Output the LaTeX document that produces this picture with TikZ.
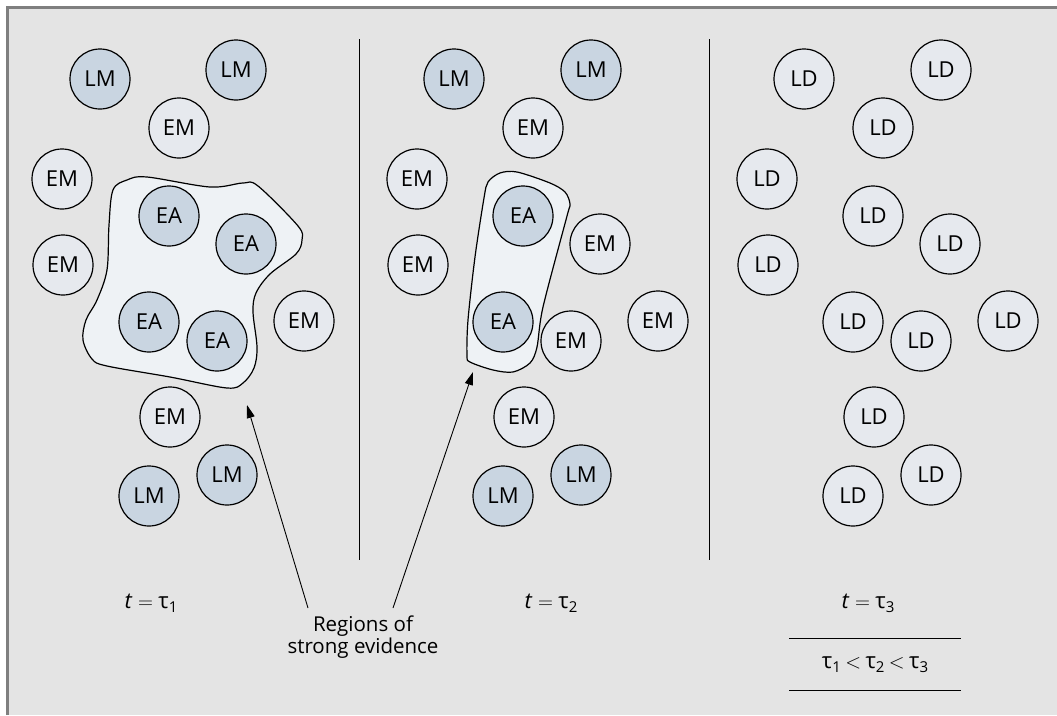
\documentclass[tikz,border=0pt]{standalone}
\usepackage{fontspec}
\setmainfont{Open Sans}
\usetikzlibrary{arrows.meta}
\definecolor{bg}{HTML}{E4E4E4}
\definecolor{lightc}{HTML}{E6E9EE}
\definecolor{darkc}{HTML}{C9D5E1}
\definecolor{blobc}{HTML}{EEF2F5}
\definecolor{framec}{HTML}{7F7F7F}
\tikzset{
  agent/.style={circle, draw=black, line width=1.2pt, minimum size=60pt, inner sep=0pt, font=\fontsize{22}{24}\selectfont},
  lightag/.style={agent, fill=lightc},
  darkag/.style={agent, fill=darkc},
  blob/.style={draw=black, line width=1.2pt, fill=blobc},
  divider/.style={draw=black, line width=1pt},
  pointer/.style={draw=black, line width=0.9pt, -{Triangle[length=13pt,width=8pt]}},
  lbl/.style={font=\fontsize{22}{24}\selectfont, align=center}
}
\newcommand{\tsub}[1]{\raisebox{-0.35ex}{\fontsize{15}{16}\selectfont #1}}
\newcommand{\releq}{\hspace{0.25em}$=$\hspace{0.25em}}
\newcommand{\rellt}{\hspace{0.2em}$<$\hspace{0.2em}}
\begin{document}
\begin{tikzpicture}[x=1pt,y=-1pt]
\useasboundingbox (0,0) rectangle (1057,715);
\fill[white] (0,0) rectangle (1057,715);
\fill[bg] (7.5,7.5) rectangle (1057,715);
\draw[framec, line width=2.5pt] (7.5,715) -- (7.5,7.5) -- (1057,7.5);

% regions of strong evidence
\draw[blob] plot[smooth cycle, tension=0.55] coordinates {
 (113,190) (127,180) (147,177) (210,187) (243,183) (258,186) (298,226) (302,240)
 (296,254) (270,274) (256,293) (253,312) (257,347) (254,368) (243,383) (227,388)
 (170,377) (107,366) (92,359) (83,340) (86,320) (97,300) (107,270) (109,225)};
\draw[blob] plot[smooth cycle, tension=0.5] coordinates {
 (488,182) (500,173) (517,172) (550,183) (565,192) (570,204) (567,216)
 (543,307) (537,347) (530,363) (513,372) (493,370) (470,362) (467,355)
 (468,320) (475,257) (484,198)};

% dividers
\draw[divider] (359.5,39) coordinate (d1t) -- (359.5,560) coordinate (d1b);
\draw[divider] (709,39) coordinate (d2t) -- (709,560) coordinate (d2b);

% panel 1
\node[darkag] (p1lm1) at (100,79) {LM};
\node[darkag] (p1lm2) at (236,70) {LM};
\node[lightag] (p1em1) at (179,128) {EM};
\node[lightag] (p1em2) at (62,179) {EM};
\node[lightag] (p1em3) at (63,265) {EM};
\node[darkag] (p1ea1) at (169,216) {EA};
\node[darkag] (p1ea2) at (246,244) {EA};
\node[darkag] (p1ea3) at (149,322) {EA};
\node[darkag] (p1ea4) at (217,341) {EA};
\node[lightag] (p1em4) at (304,321) {EM};
\node[lightag] (p1em5) at (170,417) {EM};
\node[darkag] (p1lm3) at (227,475) {LM};
\node[darkag] (p1lm4) at (149,496) {LM};

% panel 2
\node[darkag] (p2lm1) at (454,79) {LM};
\node[darkag] (p2lm2) at (591,70) {LM};
\node[lightag] (p2em1) at (533,128) {EM};
\node[lightag] (p2em2) at (417,179) {EM};
\node[lightag] (p2em3) at (418,265) {EM};
\node[darkag] (p2ea1) at (523,216) {EA};
\node[lightag] (p2em4) at (600,244) {EM};
\node[darkag] (p2ea2) at (503,322) {EA};
\node[lightag] (p2em5) at (571,341) {EM};
\node[lightag] (p2em6) at (658,321) {EM};
\node[lightag] (p2em7) at (524,417) {EM};
\node[darkag] (p2lm3) at (581,475) {LM};
\node[darkag] (p2lm4) at (503,496) {LM};

% panel 3
\node[lightag] (p3a) at (804,79) {LD};
\node[lightag] (p3b) at (941,70) {LD};
\node[lightag] (p3c) at (883,128) {LD};
\node[lightag] (p3d) at (767,179) {LD};
\node[lightag] (p3e) at (768,265) {LD};
\node[lightag] (p3f) at (873,216) {LD};
\node[lightag] (p3g) at (950,244) {LD};
\node[lightag] (p3h) at (853,322) {LD};
\node[lightag] (p3i) at (921,341) {LD};
\node[lightag] (p3j) at (1008,321) {LD};
\node[lightag] (p3k) at (874,417) {LD};
\node[lightag] (p3l) at (931,475) {LD};
\node[lightag] (p3m) at (853,496) {LD};

% labels
\node[lbl] (t1) at (151,603) {\textit{t}\releq τ\tsub{1}};
\node[lbl] (t2) at (551,603) {\textit{t}\releq τ\tsub{2}};
\node[lbl] (t3) at (868,603) {\textit{t}\releq τ\tsub{3}};
\node[lbl] (order) at (875,665) {τ\tsub{1}\rellt τ\tsub{2}\rellt τ\tsub{3}};
\draw[divider] (789,638) coordinate (o1) -- (961,638) coordinate (o2);
\draw[divider] (789,690) coordinate (o3) -- (961,690) coordinate (o4);

\node[lbl, font=\fontsize{20.5}{22.5}\selectfont] (reg) at (363,637) {Regions of\\strong evidence};
\coordinate (a1tail) at (308,608);
\coordinate (a1head) at (247,405);
\coordinate (a2tail) at (393,608);
\coordinate (a2head) at (473,372);
\draw[pointer] (a1tail) -- (a1head);
\draw[pointer] (a2tail) -- (a2head);
\end{tikzpicture}
\end{document}
